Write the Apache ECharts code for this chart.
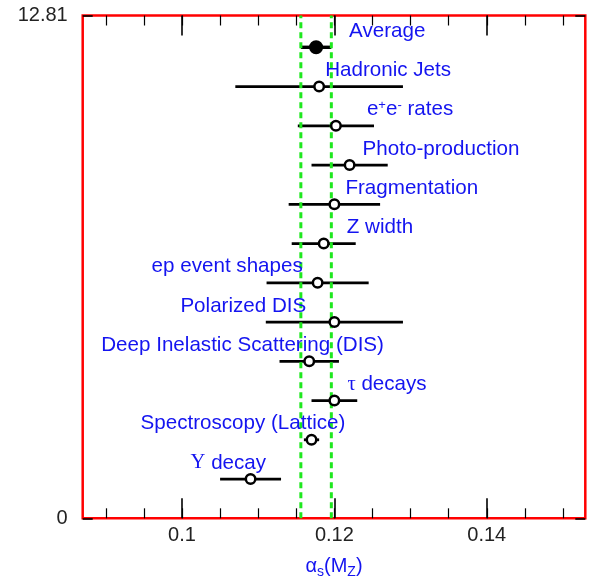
<!DOCTYPE html>
<html>
<head>
<meta charset="utf-8">
<script src="https://cdn.jsdelivr.net/npm/echarts@6/dist/echarts.min.js"></script>
<style>html,body{margin:0;padding:0;background:#fff;overflow:hidden}#c{width:589px;height:585px}</style>
</head>
<body>
<div id="c"></div>
<script>
// ---- data ----
const categories = ['Average', 'Hadronic Jets', 'e+e- rates', 'Photo-production', 'Fragmentation', 'Z width',
  'ep event shapes', 'Polarized DIS', 'Deep Inelastic Scattering (DIS)', 'τ decays', 'Spectroscopy (Lattice)', 'Υ decay'];
const rowPositions = [12, 11, 10, 9, 8, 7, 6, 5, 4, 3, 2, 1];
const alphaValues = [0.1176, 0.1180, 0.1202, 0.1220, 0.1200, 0.1186, 0.1178, 0.1200, 0.1167, 0.1200, 0.1170, 0.1090];
const alphaErrors = [0.0020, 0.0110, 0.0050, 0.0050, 0.0060, 0.0042, 0.0067, 0.0090, 0.0039, 0.0030, 0.0010, 0.0040];
const averageBand = [0.1156, 0.1196];
const xTickLabels = [0.1, 0.12, 0.14];
const xMinorTicks = [0.09, 0.095, 0.1, 0.105, 0.11, 0.115, 0.12, 0.125, 0.13, 0.135, 0.14, 0.145, 0.15];
const yTickLabels = [0, 12.81];
const xRange = [0.08697, 0.15293];

// ---- layout (pixel offsets of labels from their point) ----
const labelOffsets = [[33, -16], [6, -16], [31, -16], [13, -16], [11, -16], [23, -16],
  [-166, -16], [-154, -16], [-208, -16], [13, -16], [-171, -16], [-60, -16]];

const FONT = '"Liberation Sans", Arial, Helvetica, sans-serif';
const BLUE = '#1414f0';
const GREEN = '#1ee81e';

function labelRich(name) {
  if (name === 'e+e- rates') return '{t|e}{sup|+}{t|e}{sup|-}{t| rates}';
  if (name === 'τ decays') return '{g|τ}{t| decays}';
  if (name === 'Υ decay') return '{g|Υ}{t| decay}';
  return '{t|' + name + '}';
}

const pointData = categories.map((n, i) => ({
  value: [alphaValues[i], rowPositions[i], n],
  itemStyle: i === 0 ? { color: '#000', borderColor: '#000' } : undefined,
  symbolSize: i === 0 ? 11.5 : 9.5,
  label: { offset: labelOffsets[i] }
}));
const barData = categories.map((n, i) => [alphaValues[i], rowPositions[i], alphaValues[i] - alphaErrors[i], alphaValues[i] + alphaErrors[i], i]);

const chart = echarts.init(document.getElementById('c'), null, { renderer: 'canvas' });

function xAx(pos, major, labels) {
  return {
    type: 'value', position: pos, min: xRange[0], max: xRange[1],
    axisLine: { show: false },
    splitLine: { show: false },
    axisTick: { show: true, inside: true, length: major ? 20 : 10, customValues: major ? xTickLabels : xMinorTicks,
      lineStyle: { color: '#000', width: major ? 1.6 : 1.2 } },
    axisLabel: labels ? { show: true, customValues: xTickLabels, color: '#222', fontSize: 20, fontFamily: FONT, margin: 7 } : { show: false },
    name: labels ? '{a|α}{s|s}{a|(M}{s|Z}{a|)}' : '',
    nameLocation: 'middle', nameGap: 37,
    nameTextStyle: {
      rich: {
        a: { fontSize: 20, color: BLUE, fontFamily: FONT, lineHeight: 22, verticalAlign: 'middle' },
        s: { fontSize: 14, color: BLUE, fontFamily: FONT, lineHeight: 14, verticalAlign: 'bottom', padding: [0, 0, -2, 0] }
      }
    }
  };
}
function yAx(pos, labels) {
  return {
    type: 'value', position: pos, min: 0, max: 12.81,
    axisLine: { show: false }, splitLine: { show: false },
    axisTick: { show: true, inside: true, length: 10, customValues: yTickLabels, lineStyle: { color: '#000', width: 1.6 } },
    axisLabel: labels ? { show: true, customValues: yTickLabels, color: '#222', fontSize: 20, fontFamily: FONT, margin: 15,
      padding: [2, 0, 0, 0] } : { show: false }
  };
}

chart.setOption({
  animation: false,
  backgroundColor: '#fff',
  grid: { left: 82.7, right: 3.7, top: 15.5, bottom: 66.7, show: true, borderColor: '#ff0000', borderWidth: 2.5,
    backgroundColor: 'transparent', containLabel: false, outerBoundsMode: 'none' },
  xAxis: [xAx('bottom', true, true), xAx('bottom', false, false), xAx('top', true, false), xAx('top', false, false)],
  yAxis: [yAx('left', true), yAx('right', false)],
  series: [
    {
      type: 'custom', z: 2, xAxisIndex: 0, yAxisIndex: 0,
      encode: { x: [2, 3], y: 1 },
      data: barData,
      renderItem: function (params, api) {
        const y = api.value(1);
        const a = api.coord([api.value(2), y]);
        const b = api.coord([api.value(3), y]);
        const idx = api.value(4);
        return { type: 'line', shape: { x1: a[0], y1: a[1], x2: b[0], y2: b[1] },
          style: { stroke: '#000', lineWidth: idx === 0 ? 3.4 : 2.8 } };
      }
    },
    {
      type: 'custom', z: 3, xAxisIndex: 0, yAxisIndex: 0, silent: true,
      encode: { x: 0 },
      data: averageBand.map(v => [v]),
      renderItem: function (params, api) {
        const a = api.coord([api.value(0), 0]);
        const b = api.coord([api.value(0), 12.81]);
        return { type: 'line', shape: { x1: a[0], y1: a[1], x2: b[0], y2: b[1] },
          style: { stroke: GREEN, lineWidth: 3, lineDash: [6, 4] } };
      }
    },
    {
      type: 'scatter', z: 4, xAxisIndex: 0, yAxisIndex: 0,
      symbol: 'circle',
      itemStyle: { color: '#fff', borderColor: '#000', borderWidth: 2.5, opacity: 1 },
      data: pointData,
      label: {
        show: true, position: 'inside', align: 'left', verticalAlign: 'middle',
        formatter: p => labelRich(p.value[2]),
        rich: {
          t: { fontSize: 20.6, color: BLUE, fontFamily: FONT, lineHeight: 22 },
          g: { fontSize: 20.6, color: BLUE, fontFamily: '"Liberation Serif", "DejaVu Serif", serif', lineHeight: 22 },
          sup: { fontSize: 13, color: BLUE, fontFamily: FONT, lineHeight: 13, verticalAlign: 'top' }
        }
      }
    }
  ]
});
</script>
</body>
</html>
